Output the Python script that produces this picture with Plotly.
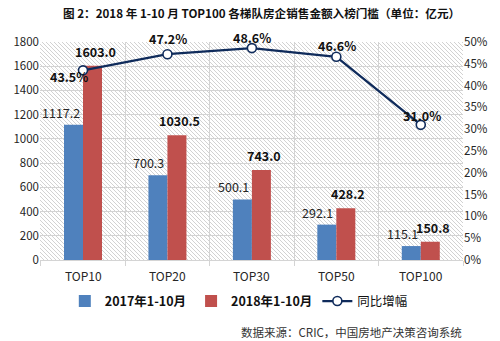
import plotly.graph_objects as go

# Data
categories = ["TOP10", "TOP20", "TOP30", "TOP50", "TOP100"]
sales_2017 = [1117.2, 700.3, 500.1, 292.1, 115.1]
sales_2018 = [1603.0, 1030.5, 743.0, 428.2, 150.8]
growth = [0.435, 0.472, 0.486, 0.466, 0.310]

series_names = ["2017年1-10月", "2018年1-10月", "同比增幅"]
title_text = "图 2：2018 年 1-10 月 TOP100 各梯队房企销售金额入榜门槛（单位：亿元）"
source_text = "数据来源：CRIC，中国房地产决策咨询系统"

Y_MAX = 1800

BLUE = "#4f81bd"
RED = "#c0504d"
NAVY = "#0f2b5b"
GRID = "#d4d4d4"
TXT = "#262626"
FONT = "Noto Sans CJK SC, Noto Sans, sans-serif"

WIDTH, HEIGHT = 500, 341
M_L, M_R, M_T, M_B = 40, 37, 42, 81
PW, PH = WIDTH - M_L - M_R, HEIGHT - M_T - M_B


def hatch_lines(w, h, step=4):
    """Diagonal (top-left to bottom-right) hatch segments across a w x h
    pixel area, in unit coordinates, separated by None."""
    xs, ys = [], []
    c = -h
    while c < w:
        y0 = max(0, -c)
        y1 = min(h, w - c)
        if y1 > y0:
            xs += [(y0 + c) / w, (y1 + c) / w, None]
            ys += [1 - y0 / h, 1 - y1 / h, None]
        c += step
    return xs, ys


fig = go.Figure()

# background hatching on the base (hidden) axes; the chart sits on overlays
hx, hy = hatch_lines(PW, PH)
fig.add_trace(go.Scatter(
    x=hx, y=hy, mode="lines", line=dict(color="#d2d2d2", width=1),
    xaxis="x", yaxis="y", showlegend=False, hoverinfo="skip",
))
fig.add_trace(go.Bar(
    x=categories, y=sales_2017, name="<b>" + series_names[0] + "</b>",
    xaxis="x2", yaxis="y2",
    marker=dict(color=BLUE, line=dict(width=0)),
))
fig.add_trace(go.Bar(
    x=categories, y=sales_2018, name="<b>" + series_names[1] + "</b>",
    xaxis="x2", yaxis="y2",
    marker=dict(color=RED, line=dict(width=0)),
))
fig.add_trace(go.Scatter(
    x=categories, y=growth, name=series_names[2], xaxis="x2", yaxis="y3",
    mode="lines+markers",
    line=dict(color=NAVY, width=2.25),
    marker=dict(symbol="circle", size=9, color="white",
                line=dict(color=NAVY, width=1.6)),
))

annotations = []
# category labels under the axis
for c in categories:
    annotations.append(dict(
        x=c, y=-0.069, xref="x2", yref="paper", text=c, showarrow=False,
        xanchor="center", yanchor="middle",
        font=dict(family=FONT, size=12, color=TXT),
    ))
# value labels for the 2017 bars (regular weight, right-aligned to bar)
for c, v in zip(categories, sales_2017):
    annotations.append(dict(
        x=c, y=v, xref="x2", yref="y2", text=f"{v:.1f}", showarrow=False,
        xanchor="right", yanchor="bottom", xshift=-1, yshift=1,
        font=dict(family=FONT, size=12.5, color=TXT),
    ))
# value labels for the 2018 bars (bold)
for c, v in zip(categories, sales_2018):
    annotations.append(dict(
        x=c, y=v, xref="x2", yref="y2", text=f"<b>{v:.1f}</b>", showarrow=False,
        xanchor="center", yanchor="bottom", xshift=12, yshift=3,
        font=dict(family=FONT, size=12.5, color="#111111"),
    ))
# growth-rate labels
pct_offsets = [(-14, -6), (1, 16), (0, 11), (1, 11), (1, 9)]
for c, g, (dx, dy) in zip(categories, growth, pct_offsets):
    annotations.append(dict(
        x=c, y=g, xref="x2", yref="y3", text=f"<b>{g*100:.1f}%</b>",
        showarrow=False, xanchor="center", yanchor="middle",
        xshift=dx, yshift=dy,
        font=dict(family=FONT, size=12.5, color="#111111"),
    ))
# chart title
annotations.append(dict(
    x=0.524, y=1.135, xref="paper", yref="paper", xanchor="center",
    yanchor="middle", text="<b>" + title_text + "</b>", showarrow=False,
    font=dict(family=FONT, size=11.6, color="#111111"),
))
# source line
annotations.append(dict(
    x=1.003, y=-0.33, xref="paper", yref="paper", xanchor="right",
    yanchor="middle", text=source_text, showarrow=False,
    font=dict(family=FONT, size=11.5, color="#333333"),
))

fig.update_layout(
    width=WIDTH, height=HEIGHT,
    margin=dict(l=M_L, r=M_R, t=M_T, b=M_B, autoexpand=False),
    paper_bgcolor="white", plot_bgcolor="white",
    barmode="group", bargap=0.55, bargroupgap=0,
    font=dict(family=FONT, size=11.5, color=TXT),
    xaxis=dict(range=[0, 1], visible=False, fixedrange=True),
    yaxis=dict(range=[0, 1], visible=False, fixedrange=True),
    xaxis2=dict(
        type="category", overlaying="x", anchor="y2", side="bottom",
        tickson="boundaries", showgrid=True, gridcolor=GRID,
        gridwidth=1, ticks="outside", ticklen=5, tickcolor=GRID,
        showline=True, linecolor=GRID, linewidth=1, showticklabels=False,
    ),
    yaxis2=dict(
        overlaying="y", anchor="x2", side="left",
        range=[0, Y_MAX], dtick=200, showgrid=True, gridcolor=GRID,
        gridwidth=1, zeroline=False, showline=False, ticks="",
        tickfont=dict(family=FONT, size=11.5, color=TXT),
    ),
    yaxis3=dict(
        overlaying="y", anchor="x2", side="right",
        range=[0, 0.5], dtick=0.05, tickformat=".0%",
        showgrid=False, zeroline=False, showline=False,
        ticks="", tickfont=dict(family=FONT, size=11.5, color=TXT),
    ),
    legend=dict(
        orientation="h", x=0.47, xanchor="center", y=-0.19, yanchor="middle",
        font=dict(family=FONT, size=12.5, color="#111111"),
        bgcolor="rgba(0,0,0,0)", itemwidth=30, traceorder="normal",
    ),
    annotations=annotations,
    showlegend=True,
)

fig.write_html("out.html")
